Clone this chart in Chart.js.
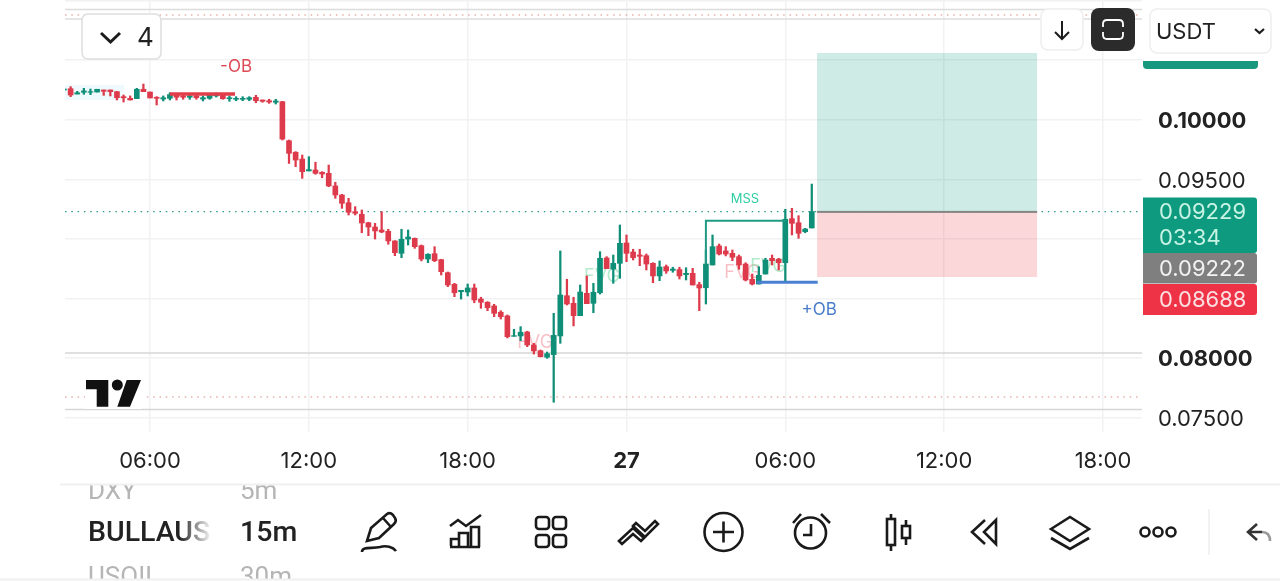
<!DOCTYPE html>
<html>
<head>
<meta charset="utf-8">
<title>BULLAUS 15m</title>
<script src="https://cdn.jsdelivr.net/npm/chart.js@4"></script>
<style>
    html, body { margin: 0; padding: 0; background: #fff; overflow: hidden; }
    #wrap { position: relative; width: 1280px; height: 581px; }
    #chart { position: absolute; left: 0; top: 0; }
    #ui { position: absolute; left: 0; top: 0; }
</style>
</head>
<body>
<div id="wrap">
    <canvas id="chart" width="1280" height="581"></canvas>
    <svg id="ui" width="1280" height="581" viewBox="0 0 1280 581" font-family="Inter">
        <defs>
            <linearGradient id="fade" gradientUnits="userSpaceOnUse" x1="180" y1="0" x2="212" y2="0">
                <stop offset="0" stop-color="#222"/><stop offset="1" stop-color="#fff"/>
            </linearGradient>
            <clipPath id="wheel"><rect x="60" y="485" width="300" height="94"/></clipPath>
        </defs>

        <!-- top buttons -->
        <rect x="82" y="14" width="79" height="45" rx="6" fill="#fff" stroke="#dedede" stroke-width="1.5"/>
        <path d="M101 33 L110.500 42 L120 33" fill="none" stroke="#1c1c1c" stroke-width="3"/>
        <text x="137" y="46" font-size="26" fill="#222">4</text>

        <rect x="1041" y="9" width="42" height="41" rx="7" fill="#fff" stroke="#eeeeee" stroke-width="1.5"/>
        <path d="M1062 21 V39 M1055 32 L1062 39 L1069 32" fill="none" stroke="#1c1c1c" stroke-width="2"/>
        <rect x="1091" y="8" width="44" height="43" rx="8" fill="#2b2b2b"/>
        <path d="M1103 27 V24 Q1103 20 1107 20 H1119 Q1123 20 1123 24 V27 M1103 32 V35 Q1103 39 1107 39 H1119 Q1123 39 1123 35 V32" fill="none" stroke="#fff" stroke-width="1.800"/>
        <rect x="1150" y="9" width="121" height="44" rx="7" fill="#fff" stroke="#eeeeee" stroke-width="1.5"/>
        <text x="1156" y="39" font-size="22" fill="#222">USDT</text>
        <path d="M1255 29 L1259.500 33 L1264 29" fill="none" stroke="#1c1c1c" stroke-width="2.200"/>

        <!-- tradingview mark -->
        <rect x="85" y="378" width="57" height="31" fill="#fff"/>
        <path d="M86 380 H108.300 V406.700 H96.700 V389.300 H86 Z M126.700 380 H141 L130 406.700 H117.300 Z" fill="#111"/>
        <circle cx="117.300" cy="385" r="5.500" fill="#111"/>

        <!-- symbol and interval wheel -->
        <g clip-path="url(#wheel)" font-family="Roboto">
            <text x="88" y="499" font-size="26" fill="#b5b5b5">DXY</text>
            <text x="240" y="499" font-size="26" fill="#b5b5b5">5m</text>
            <text x="88" y="541" font-size="28.5" font-weight="500" fill="url(#fade)">BULLAUS</text>
            <text x="240" y="541" font-size="28.5" font-weight="500" fill="#222">15m</text>
            <text x="88" y="585" font-size="26" fill="#b5b5b5">USOIL</text>
            <text x="240" y="585" font-size="26" fill="#b5b5b5">30m</text>
        </g>

        <!-- toolbar icons -->
        <g fill="none" stroke="#1a1a1a" stroke-width="2.600">
            <path d="M367 541 L371 528 L387 514 Q390 512 393 515 L395 518 Q397 521 394 524 L379 538 Z M383 518 L391 527"/>
            <path d="M362 552 C362 546 372 549 380 547 C386 545 393 547 396 551"/>
            <path d="M451 546 V539 H459 M459 547 V533 H468 V547 M471 547 V527 H479 V547 M450 547 H480 M450 526 L458 520 L466 526 L481 515"/>
            <rect x="536" y="517" width="13" height="12" rx="3"/><rect x="553" y="517" width="13" height="12" rx="3"/>
            <rect x="536" y="535" width="13" height="12" rx="3"/><rect x="553" y="535" width="13" height="12" rx="3"/>
            <path d="M619 541 L633 528 L644 538 L641 541 L633 534 L622 544 Z M633 526 L636 523 L645 531 L655 521 L658 524 L645 537 Z"/>
            <circle cx="723.500" cy="532" r="19"/><path d="M713 532 H734 M723.500 521.500 V542.500"/>
            <circle cx="810.500" cy="533" r="15.500"/><path d="M811 524 V535 H803 M793 523 L801 514 M821 514 L830 523"/>
            <path d="M891 514 V519 M891 545 V551 M906 520 V526 M906 538 V545"/>
            <rect x="887" y="519" width="8" height="26"/><rect x="902" y="526" width="8" height="12"/>
            <path d="M985 520 L972 532 L985 544 M996 520 L984 532 L996 544 Z"/>
            <path d="M1051 529 L1070 517 L1089 529 L1070 541 Z M1051 538 L1070 549 L1089 538"/>
            <circle cx="1145" cy="532" r="4.500"/><circle cx="1158" cy="532" r="4.500"/><circle cx="1171" cy="532" r="4.500"/>
            <path d="M1257 524 L1248 532 L1257 540 M1249 532 H1262" stroke="#333"/>
            <path d="M1262 532 Q1270 532 1270 541" stroke="#999"/>
        </g>
        <path d="M1209 509 V555" stroke="#eeeeee" stroke-width="1.500"/>
        <path d="M60 484.500 H1280" stroke="#f0f0f0" stroke-width="2"/>
        <path d="M0 579.500 H1280" stroke="#f0f0f0" stroke-width="2"/>
    </svg>
</div>

<script>
// 15 minute candles, counted from the 06:00 bar on the first day
const firstBar = -13;

const opens = [
    0.10250, 0.10261, 0.10216, 0.10231, 0.10231, 0.10233, 0.10250, 0.10250, 0.10236, 0.10194,
    0.10180, 0.10177, 0.10256, 0.10233, 0.10189, 0.10174, 0.10180, 0.10205, 0.10200, 0.10189,
    0.10200, 0.10174, 0.10180, 0.10200, 0.10208, 0.10177, 0.10172, 0.10172, 0.10172, 0.10189,
    0.10166, 0.10160, 0.10147, 0.10152, 0.09824, 0.09727, 0.09670, 0.09570, 0.09578, 0.09559,
    0.09550, 0.09444, 0.09368, 0.09303, 0.09228, 0.09206, 0.09135, 0.09099, 0.09074, 0.09063,
    0.08982, 0.08878, 0.08998, 0.09004, 0.08942, 0.08830, 0.08875, 0.08825, 0.08715, 0.08618,
    0.08556, 0.08553, 0.08587, 0.08494, 0.08467, 0.08436, 0.08383, 0.08352, 0.08181, 0.08184,
    0.08217, 0.08108, 0.08060, 0.08005, 0.08027, 0.08184, 0.08522, 0.08458, 0.08354, 0.08542,
    0.08458, 0.08547, 0.08839, 0.08746, 0.08794, 0.08965, 0.08889, 0.08864, 0.08858, 0.08794,
    0.08688, 0.08766, 0.08735, 0.08741, 0.08699, 0.08710, 0.08615, 0.08589, 0.08780, 0.08940,
    0.08898, 0.08878, 0.08850, 0.08788, 0.08660, 0.08620, 0.08704, 0.08836, 0.08828, 0.08799,
    0.09169, 0.09135, 0.09060, 0.09091
];
const highs = [
    0.10263, 0.10278, 0.10239, 0.10264, 0.10258, 0.10256, 0.10250, 0.10250, 0.10239, 0.10208,
    0.10200, 0.10264, 0.10300, 0.10233, 0.10194, 0.10200, 0.10227, 0.10222, 0.10216, 0.10212,
    0.10208, 0.10200, 0.10211, 0.10225, 0.10208, 0.10200, 0.10194, 0.10194, 0.10194, 0.10205,
    0.10166, 0.10172, 0.10172, 0.10155, 0.09830, 0.09732, 0.09704, 0.09690, 0.09643, 0.09564,
    0.09620, 0.09475, 0.09374, 0.09340, 0.09270, 0.09242, 0.09139, 0.09130, 0.09228, 0.09080,
    0.08984, 0.09080, 0.09074, 0.09007, 0.08948, 0.08875, 0.08934, 0.08828, 0.08721, 0.08626,
    0.08567, 0.08620, 0.08620, 0.08509, 0.08472, 0.08450, 0.08396, 0.08360, 0.08240, 0.08262,
    0.08223, 0.08122, 0.08066, 0.08049, 0.08374, 0.08898, 0.08660, 0.08509, 0.08612, 0.08688,
    0.08626, 0.08892, 0.08850, 0.08864, 0.09116, 0.09032, 0.08912, 0.08912, 0.08872, 0.08799,
    0.08814, 0.08780, 0.08761, 0.08761, 0.08757, 0.08752, 0.08635, 0.08906, 0.09032, 0.08956,
    0.08934, 0.08906, 0.08864, 0.08799, 0.08704, 0.08766, 0.08836, 0.08864, 0.08836, 0.09248,
    0.09256, 0.09194, 0.09088, 0.09460
];
const lows = [
    0.10242, 0.10194, 0.10216, 0.10214, 0.10211, 0.10233, 0.10205, 0.10200, 0.10166, 0.10149,
    0.10166, 0.10177, 0.10236, 0.10183, 0.10124, 0.10158, 0.10166, 0.10166, 0.10172, 0.10172,
    0.10172, 0.10158, 0.10172, 0.10191, 0.10172, 0.10155, 0.10160, 0.10160, 0.10160, 0.10143,
    0.10147, 0.10138, 0.10132, 0.09830, 0.09633, 0.09606, 0.09508, 0.09570, 0.09542, 0.09513,
    0.09438, 0.09340, 0.09256, 0.09200, 0.09200, 0.09051, 0.09026, 0.08998, 0.09051, 0.08954,
    0.08858, 0.08841, 0.08948, 0.08920, 0.08814, 0.08799, 0.08808, 0.08696, 0.08598, 0.08514,
    0.08494, 0.08520, 0.08463, 0.08416, 0.08396, 0.08346, 0.08326, 0.08167, 0.08181, 0.08144,
    0.08094, 0.08032, 0.08007, 0.07996, 0.07627, 0.08122, 0.08444, 0.08268, 0.08354, 0.08455,
    0.08379, 0.08536, 0.08749, 0.08626, 0.08668, 0.08808, 0.08822, 0.08774, 0.08738, 0.08631,
    0.08648, 0.08710, 0.08719, 0.08662, 0.08654, 0.08612, 0.08396, 0.08452, 0.08780, 0.08864,
    0.08856, 0.08816, 0.08744, 0.08646, 0.08612, 0.08620, 0.08704, 0.08780, 0.08738, 0.08640,
    0.09032, 0.09004, 0.09051, 0.09091
];
const closes = [
    0.10258, 0.10208, 0.10227, 0.10242, 0.10236, 0.10256, 0.10239, 0.10236, 0.10185, 0.10185,
    0.10166, 0.10256, 0.10236, 0.10183, 0.10180, 0.10185, 0.10211, 0.10189, 0.10189, 0.10200,
    0.10185, 0.10185, 0.10208, 0.10216, 0.10177, 0.10185, 0.10180, 0.10180, 0.10185, 0.10160,
    0.10155, 0.10149, 0.10158, 0.09838, 0.09718, 0.09662, 0.09564, 0.09581, 0.09550, 0.09544,
    0.09444, 0.09368, 0.09298, 0.09223, 0.09214, 0.09133, 0.09099, 0.09066, 0.09057, 0.08982,
    0.08883, 0.08996, 0.09015, 0.08934, 0.08830, 0.08870, 0.08816, 0.08724, 0.08612, 0.08547,
    0.08567, 0.08587, 0.08486, 0.08467, 0.08421, 0.08374, 0.08346, 0.08178, 0.08186, 0.08215,
    0.08108, 0.08058, 0.08010, 0.08035, 0.08189, 0.08528, 0.08452, 0.08354, 0.08553, 0.08455,
    0.08551, 0.08836, 0.08749, 0.08794, 0.08962, 0.08878, 0.08841, 0.08853, 0.08788, 0.08688,
    0.08763, 0.08730, 0.08746, 0.08688, 0.08710, 0.08612, 0.08587, 0.08788, 0.08934, 0.08872,
    0.08872, 0.08845, 0.08780, 0.08654, 0.08620, 0.08693, 0.08822, 0.08816, 0.08799, 0.09164,
    0.09130, 0.09046, 0.09082, 0.09229
];

// axes
const timeTicks = [0, 24, 48, 72, 96, 120, 144];
const timeLabels = ['06:00', '12:00', '18:00', '27', '06:00', '12:00', '18:00'];
const priceTicks = [0.075, 0.08, 0.085, 0.09, 0.095, 0.1, 0.105, 0.11];
const priceLabels = ['0.07500', '0.08000', '', '', '0.09500', '0.10000', '', ''];
const boldPrices = [0.08, 0.1];

// horizontal levels
const priceLine = 0.09229;
const alertLevels = [0.10880, 0.07671];
const boxLevels = [0.10926, 0.10846, 0.08041, 0.07566];

// drawn objects, x in bars and y in prices
const obLow = { x: [3, 12.85], y: [0.10216, 0.10216] };
const obHigh = { x: [91.7, 100.9], y: [0.08635, 0.08635] };
const mss = { x: [84, 84, 96], y: [0.08788, 0.09152, 0.09152] };
const position = { x: [100.8, 134.05], target: 0.10561, entry: 0.09226, stop: 0.08679 };
const tint = { x: [-12.85, -3.9], y: [0.10292, 0.10166] };

const noteText = ['-OB', '+OB', 'MSS'];
const noteBars = [13, 101.1, 89.9];
const notePrices = [0.10443, 0.08402, 0.09334];
const fvgBars = [58.2, 68.3, 89.5, 93.4];
const fvgPrices = [0.08125, 0.08679, 0.08713, 0.08763];

const tagText = ['0.09229', '0.09222', '0.08688'];

const GREEN = '#0f8f78';
const RED = '#dd3b4c';
const GRID = '#f1f2f4';
const FONT = 'Inter';

const barIndex = opens.map((o, i) => firstBar + i);
const candleColors = opens.map((o, i) => closes[i] >= o ? GREEN : RED);

function levelLine(price, color, width, dash, order) {
    return {
        type: 'line',
        data: [{ x: -12.85, y: price }, { x: 150, y: price }],
        borderColor: color,
        borderWidth: width,
        borderDash: dash,
        pointRadius: 0,
        order: order
    };
}

function pathLine(xs, ys, color, width, order) {
    return {
        type: 'line',
        data: xs.map((x, i) => ({ x: x, y: ys[i] })),
        borderColor: color,
        borderWidth: width,
        pointRadius: 0,
        tension: 0,
        order: order
    };
}

// keep the plot area fixed, tick labels must not push it in
function noPadding(scale) {
    scale.paddingTop = 0;
    scale.paddingBottom = 0;
    scale.paddingLeft = 0;
    scale.paddingRight = 0;
}

// zones and notes sit on the price scale, the tags on the right are ui
const drawings = {
    id: 'drawings',
    beforeDatasetsDraw(chart) {
        const { ctx, chartArea, scales: { x, y } } = chart;
        ctx.save();
        ctx.beginPath();
        ctx.rect(chartArea.left, chartArea.top, chartArea.width, chartArea.height);
        ctx.clip();

        ctx.fillStyle = '#eefafd';
        ctx.fillRect(x.getPixelForValue(tint.x[0]), y.getPixelForValue(tint.y[0]),
            x.getPixelForValue(tint.x[1]) - x.getPixelForValue(tint.x[0]),
            y.getPixelForValue(tint.y[1]) - y.getPixelForValue(tint.y[0]));

        ctx.font = '18px ' + FONT;
        ctx.textAlign = 'center';
        ctx.textBaseline = 'middle';
        fvgBars.forEach((bar, i) => {
            ctx.fillStyle = i % 2 === 0 ? 'rgba(240,150,160,0.6)' : 'rgba(130,220,170,0.6)';
            ctx.fillText('FVG', x.getPixelForValue(bar), y.getPixelForValue(fvgPrices[i]));
        });
        ctx.restore();
    },
    afterDatasetsDraw(chart) {
        const { ctx, scales: { x, y } } = chart;
        const left = x.getPixelForValue(position.x[0]);
        const right = x.getPixelForValue(position.x[1]);
        const top = y.getPixelForValue(position.target);
        const mid = y.getPixelForValue(position.entry);
        const bottom = y.getPixelForValue(position.stop);

        ctx.save();
        ctx.fillStyle = 'rgba(8,153,129,0.2)';
        ctx.fillRect(left, top, right - left, mid - top);
        ctx.fillStyle = 'rgba(242,54,69,0.2)';
        ctx.fillRect(left, mid, right - left, bottom - mid);
        ctx.fillStyle = '#858585';
        ctx.fillRect(left, mid - 1, right - left, 2);

        ctx.textAlign = 'center';
        ctx.textBaseline = 'middle';
        const noteColors = ['#dd4a55', '#4a7dc9', '#2fcfa5'];
        const noteSizes = [17, 17, 13];
        noteText.forEach((t, i) => {
            ctx.font = noteSizes[i] + 'px ' + FONT;
            ctx.fillStyle = noteColors[i];
            ctx.fillText(t, x.getPixelForValue(noteBars[i]), y.getPixelForValue(notePrices[i]));
        });
        ctx.restore();
    },
    afterDraw(chart) {
        const { ctx } = chart;
        ctx.save();
        ctx.fillStyle = '#199880';
        ctx.beginPath();
        ctx.roundRect(1143, 61, 115, 8, [0, 0, 4, 4]);
        ctx.fill();

        ctx.fillStyle = '#0d9a7f';
        ctx.beginPath();
        ctx.roundRect(1143, 197.500, 114, 55.500, [0, 3, 3, 0]);
        ctx.fill();
        ctx.fillStyle = '#7f7f7f';
        ctx.beginPath();
        ctx.roundRect(1143, 253, 114, 30.500, [0, 3, 3, 0]);
        ctx.fill();
        ctx.fillStyle = '#ef3346';
        ctx.beginPath();
        ctx.roundRect(1143, 284, 114, 31, [0, 3, 3, 0]);
        ctx.fill();

        ctx.font = '22px ' + FONT;
        ctx.textAlign = 'left';
        ctx.textBaseline = 'middle';
        ctx.fillStyle = '#c8f3e4';
        ctx.fillText(tagText[0], 1159, 212.500);
        ctx.fillText('03:34', 1159, 238);
        ctx.fillStyle = '#f2f2f2';
        ctx.fillText(tagText[1], 1159, 269);
        ctx.fillStyle = '#fbdfe2';
        ctx.fillText(tagText[2], 1159, 300);
        ctx.restore();
    }
};

new Chart(document.getElementById('chart').getContext('2d'), {
    type: 'bar',
    data: {
        datasets: [
            {
                data: barIndex.map((x, i) => ({ x: x, y: [lows[i], highs[i]] })),
                backgroundColor: candleColors,
                barThickness: 1.6,
                order: 4
            },
            {
                data: barIndex.map((x, i) => ({ x: x, y: [opens[i], closes[i]] })),
                backgroundColor: candleColors,
                barThickness: 5,
                order: 3
            },
            pathLine(mss.x, mss.y, '#1f9a85', 2, 2),
            pathLine(obLow.x, obLow.y, '#e23e4a', 3.5, 1),
            pathLine(obHigh.x, obHigh.y, '#4a80d0', 3, 1),
            levelLine(priceLine, '#2a9a8c', 1.2, [1.5, 4.8], 6),
            levelLine(alertLevels[0], '#d98a7c', 1.2, [1.5, 4.8], 6),
            levelLine(alertLevels[1], '#d98a7c', 1.2, [1.5, 4.8], 6),
            levelLine(boxLevels[0], '#dcdcdc', 1.6, [], 7),
            levelLine(boxLevels[1], '#dcdcdc', 1.6, [], 7),
            levelLine(boxLevels[2], '#d6d6d6', 1.6, [], 7),
            levelLine(boxLevels[3], '#d6d6d6', 1.6, [], 7)
        ]
    },
    options: {
        responsive: false,
        animation: false,
        grouped: false,
        layout: { padding: { left: 65, top: 0, right: 0, bottom: 0 } },
        plugins: { legend: { display: false }, tooltip: { enabled: false } },
        scales: {
            x: {
                type: 'linear',
                offset: false,
                min: -12.85,
                max: 149.9,
                afterFit(scale) { scale.height = 149; noPadding(scale); },
                afterBuildTicks(scale) { scale.ticks = timeTicks.map(v => ({ value: v })); },
                border: { display: false },
                grid: { color: GRID, drawTicks: false, lineWidth: 1.5, offset: false },
                ticks: {
                    autoSkip: false,
                    maxRotation: 0,
                    padding: 16,
                    color: '#222',
                    font: ctx => ({ family: FONT, size: 22, weight: ctx.tick && ctx.tick.value === 72 ? 'bold' : 'normal' }),
                    callback: v => timeLabels[timeTicks.indexOf(v)]
                }
            },
            y: {
                type: 'linear',
                position: 'right',
                min: 0.07377,
                max: 0.11006,
                afterFit(scale) { scale.width = 138; noPadding(scale); },
                afterBuildTicks(scale) { scale.ticks = priceTicks.map(v => ({ value: v })); },
                border: { display: false },
                grid: { color: GRID, drawTicks: false, lineWidth: 1.5 },
                ticks: {
                    autoSkip: false,
                    padding: 16,
                    color: '#222',
                    // empty first line plus small line height drops the label about 2px, as in the reference
                    font: ctx => ({ family: FONT, size: 22, lineHeight: '4px', weight: ctx.tick && boldPrices.includes(ctx.tick.value) ? 'bold' : 'normal' }),
                    callback: v => ['', priceLabels[priceTicks.indexOf(v)]]
                }
            }
        }
    },
    plugins: [drawings]
});
</script>
</body>
</html>
